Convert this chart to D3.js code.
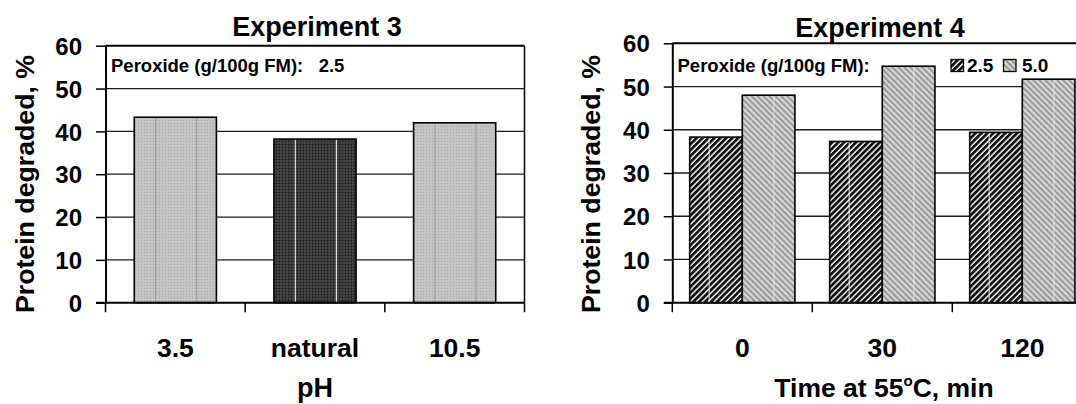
<!DOCTYPE html>
<html>
<head>
<meta charset="utf-8">
<script src="https://cdn.jsdelivr.net/npm/d3@7"></script>
<style>
  html, body { margin: 0; padding: 0; background: #fff; }
  svg { display: block; }
  text { font-family: "Liberation Sans", Arial, Helvetica, sans-serif; font-weight: bold; fill: #000; }
</style>
</head>
<body>
<svg id="chart" width="1076" height="404"></svg>
<script>
// ---------------- Data ----------------
const yTicks = [0, 10, 20, 30, 40, 50, 60];

const exp3Title = "Experiment 3";
const exp3Categories = ["3.5", "natural", "10.5"];
const exp3Values = [43.3, 38.2, 42.0];
const exp3Legend = "Peroxide (g/100g FM):   2.5";
const exp3XTitle = "pH";

const exp4Title = "Experiment 4";
const exp4Categories = ["0", "30", "120"];
const exp4Series = ["2.5", "5.0"];
const exp4Values25 = [38.3, 37.3, 39.4];
const exp4Values50 = [48.0, 54.7, 51.7];
const exp4Legend = "Peroxide (g/100g FM):";
const exp4XTitle = "Time at 55";

const yTitle = "Protein degraded, %";

// ---------------- Setup ----------------
const svg = d3.select("#chart");
const defs = svg.append("defs");

// light gray dotted fill
const pl = defs.append("pattern").attr("id", "lightDots").attr("patternUnits", "userSpaceOnUse")
  .attr("width", 3).attr("height", 3);
pl.append("rect").attr("width", 3).attr("height", 3).attr("fill", "#c2c2c2");
pl.append("rect").attr("x", 0).attr("y", 0).attr("width", 1).attr("height", 1).attr("fill", "#aaaaaa");
pl.append("rect").attr("x", 1.5).attr("y", 1.5).attr("width", 1).attr("height", 1).attr("fill", "#d0d0d0");

// dark dotted fill
const pd = defs.append("pattern").attr("id", "darkDots").attr("patternUnits", "userSpaceOnUse")
  .attr("width", 3).attr("height", 3);
pd.append("rect").attr("width", 3).attr("height", 3).attr("fill", "#3a3a3a");
pd.append("rect").attr("x", 0).attr("y", 0).attr("width", 1).attr("height", 1).attr("fill", "#111");
pd.append("rect").attr("x", 1.5).attr("y", 1.5).attr("width", 1).attr("height", 1).attr("fill", "#5a5a5a");

// black "/" hatch
const ph = defs.append("pattern").attr("id", "hatchBlack").attr("patternUnits", "userSpaceOnUse")
  .attr("width", 4.2).attr("height", 4.2).attr("patternTransform", "rotate(45)");
ph.append("rect").attr("width", 4.2).attr("height", 4.2).attr("fill", "#fff");
ph.append("rect").attr("x", 0).attr("y", 0).attr("width", 2.8).attr("height", 4.2).attr("fill", "#111");

// gray "\" hatch
const pg = defs.append("pattern").attr("id", "hatchGray").attr("patternUnits", "userSpaceOnUse")
  .attr("width", 4.2).attr("height", 4.2).attr("patternTransform", "rotate(-45)");
pg.append("rect").attr("width", 4.2).attr("height", 4.2).attr("fill", "#c4c4c4");
pg.append("rect").attr("x", 0).attr("y", 0).attr("width", 1.3).attr("height", 4.2).attr("fill", "#8c8c8c");
pg.append("rect").attr("x", 2.3).attr("y", 0).attr("width", 0.9).attr("height", 4.2).attr("fill", "#e2e2e2");

function drawFrame(g, x, y, opts) {
  const [x0, x1] = x.range();
  const [yb, yt] = y.range();
  g.append("g").selectAll("line").data(yTicks.filter(d => d > 0 && d < 60)).join("line")
    .attr("x1", x0).attr("x2", x1).attr("y1", d => y(d)).attr("y2", d => y(d))
    .attr("stroke", "#1a1a1a").attr("stroke-width", 1.3);
  g.append("line").attr("x1", x0).attr("x2", x1).attr("y1", yt).attr("y2", yt)
    .attr("stroke", "#000").attr("stroke-width", 2);
  if (opts.rightBorder) {
    g.append("line").attr("x1", x1).attr("x2", x1).attr("y1", yt).attr("y2", yb)
      .attr("stroke", "#000").attr("stroke-width", 1.5);
  }
}

function drawAxes(g, x, y, opts) {
  const [x0, x1] = x.range();
  const [yb, yt] = y.range();
  const ya = g.append("g").attr("transform", `translate(${x0},0)`)
    .call(d3.axisLeft(y).tickValues(yTicks).tickSize(opts.yTickSize).tickPadding(opts.yTickPad).tickSizeOuter(0));
  ya.select(".domain").attr("stroke", "#000").attr("stroke-width", 2);
  ya.selectAll(".tick line").attr("stroke", "#000").attr("stroke-width", 1.5);
  ya.selectAll(".tick text").style("font-size", "24px").attr("dy", "0.36em");
  g.append("line").attr("x1", x0 - opts.yTickSize).attr("x2", x1).attr("y1", yb).attr("y2", yb)
    .attr("stroke", "#000").attr("stroke-width", 2);
  const bounds = x.domain().map(d => x(d)).concat([x(x.domain()[x.domain().length - 1]) + x.bandwidth()]);
  g.append("g").selectAll("line").data(bounds).join("line")
    .attr("x1", d => d).attr("x2", d => d).attr("y1", yb).attr("y2", yb + 9.5)
    .attr("stroke", "#000").attr("stroke-width", 1.5);
  const xa = g.append("g").attr("transform", `translate(0,${yb})`)
    .call(d3.axisBottom(x).tickSize(0).tickPadding(0));
  xa.select(".domain").remove();
  xa.selectAll(".tick text").style("font-size", "26.5px").attr("y", 54.5).attr("dy", 0);
}

function drawYTitle(cx, cy) {
  svg.append("text").attr("transform", `translate(${cx},${cy}) rotate(-90)`)
    .attr("text-anchor", "middle").style("font-size", "26.7px").text(yTitle);
}

// ---------------- Experiment 3 ----------------
{
  const g = svg.append("g");
  const x = d3.scaleBand().domain(exp3Categories).range([105.5, 524.5]).padding(0);
  const y = d3.scaleLinear().domain([0, 60]).range([302.7, 45.7]);
  drawFrame(g, x, y, { rightBorder: true });

  const bw = x.bandwidth() * 0.588;
  const fills = ["url(#lightDots)", "url(#darkDots)", "url(#lightDots)"];
  const streak = ["#9a9a9a", "#ffffff", "#9a9a9a"];
  const bars = g.append("g").selectAll("g").data(exp3Values).join("g");
  bars.append("rect")
    .attr("x", (d, i) => x(exp3Categories[i]) + (x.bandwidth() - bw) / 2)
    .attr("y", d => y(d)).attr("width", bw).attr("height", d => y(0) - y(d))
    .attr("fill", (d, i) => fills[i]);
  [0.26, 0.76].forEach(f => {
    bars.append("line")
      .attr("x1", (d, i) => x(exp3Categories[i]) + (x.bandwidth() - bw) / 2 + bw * f)
      .attr("x2", (d, i) => x(exp3Categories[i]) + (x.bandwidth() - bw) / 2 + bw * f)
      .attr("y1", d => y(d)).attr("y2", y(0))
      .attr("stroke", (d, i) => streak[i]).attr("stroke-width", 1);
  });
  bars.append("rect")
    .attr("x", (d, i) => x(exp3Categories[i]) + (x.bandwidth() - bw) / 2)
    .attr("y", d => y(d)).attr("width", bw).attr("height", d => y(0) - y(d))
    .attr("fill", "none").attr("stroke", "#000").attr("stroke-width", 1.6);

  drawAxes(g, x, y, { yTickSize: 9.5, yTickPad: 14 });

  svg.append("text").attr("x", 317).attr("y", 36).attr("text-anchor", "middle")
    .style("font-size", "27px").text(exp3Title);
  svg.append("text").attr("x", 111).attr("y", 72).style("font-size", "18.5px")
    .attr("xml:space", "preserve").style("white-space", "pre").text(exp3Legend);
  svg.append("text").attr("x", 315).attr("y", 397).attr("text-anchor", "middle")
    .style("font-size", "27px").text(exp3XTitle);
  drawYTitle(33.5, 184);
}

// ---------------- Experiment 4 ----------------
{
  const g = svg.append("g");
  const x = d3.scaleBand().domain(exp4Categories).range([672.3, 1092.3]).padding(0);
  const xs = d3.scaleBand().domain(exp4Series).range([0, x.bandwidth()]).paddingInner(0).paddingOuter(0.33);
  const y = d3.scaleLinear().domain([0, 60]).range([302.7, 43.3]);
  drawFrame(g, x, y, { rightBorder: false });

  const rows = exp4Categories.map((c, i) => ({ c, vals: [exp4Values25[i], exp4Values50[i]] }));
  const fills = ["url(#hatchBlack)", "url(#hatchGray)"];
  const grp = g.append("g").selectAll("g").data(rows).join("g")
    .attr("transform", d => `translate(${x(d.c)},0)`);
  const b = grp.selectAll("g").data(d => d.vals.map((v, j) => ({ s: exp4Series[j], v, j }))).join("g");
  b.append("rect")
    .attr("x", d => xs(d.s)).attr("y", d => y(d.v))
    .attr("width", xs.bandwidth()).attr("height", d => y(0) - y(d.v))
    .attr("fill", d => fills[d.j]);
  b.append("line")
    .attr("x1", d => xs(d.s) + xs.bandwidth() * (d.j === 0 ? 0.37 : 0.6))
    .attr("x2", d => xs(d.s) + xs.bandwidth() * (d.j === 0 ? 0.37 : 0.6))
    .attr("y1", d => y(d.v)).attr("y2", y(0))
    .attr("stroke", d => d.j === 0 ? "#ffffff" : "#e6e6e6").attr("stroke-width", 0.9);
  b.append("rect")
    .attr("x", d => xs(d.s)).attr("y", d => y(d.v))
    .attr("width", xs.bandwidth()).attr("height", d => y(0) - y(d.v))
    .attr("fill", "none").attr("stroke", "#000").attr("stroke-width", 1.6);

  drawAxes(g, x, y, { yTickSize: 8.5, yTickPad: 14 });

  svg.append("text").attr("x", 880).attr("y", 36.5).attr("text-anchor", "middle")
    .style("font-size", "27px").text(exp4Title);
  svg.append("text").attr("x", 677.5).attr("y", 72).style("font-size", "18.5px").text(exp4Legend);

  const lg = svg.append("g");
  const legX = [951, 1003.5];
  const legTextX = [967, 1022];
  exp4Series.forEach((s, j) => {
    lg.append("rect").attr("x", legX[j]).attr("y", 59.5).attr("width", 12.5).attr("height", 12)
      .attr("fill", fills[j]).attr("stroke", "#000").attr("stroke-width", 1.3);
    lg.append("text").attr("x", legTextX[j]).attr("y", 72).style("font-size", "19px").text(s);
  });

  const xt = svg.append("text").attr("x", 884).attr("y", 397).attr("text-anchor", "middle")
    .style("font-size", "26.5px");
  xt.append("tspan").text(exp4XTitle);
  xt.append("tspan").attr("dy", -11).style("font-size", "15px").text("o");
  xt.append("tspan").attr("dy", 11).text("C, min");
  drawYTitle(600, 184);
}
</script>
</body>
</html>
